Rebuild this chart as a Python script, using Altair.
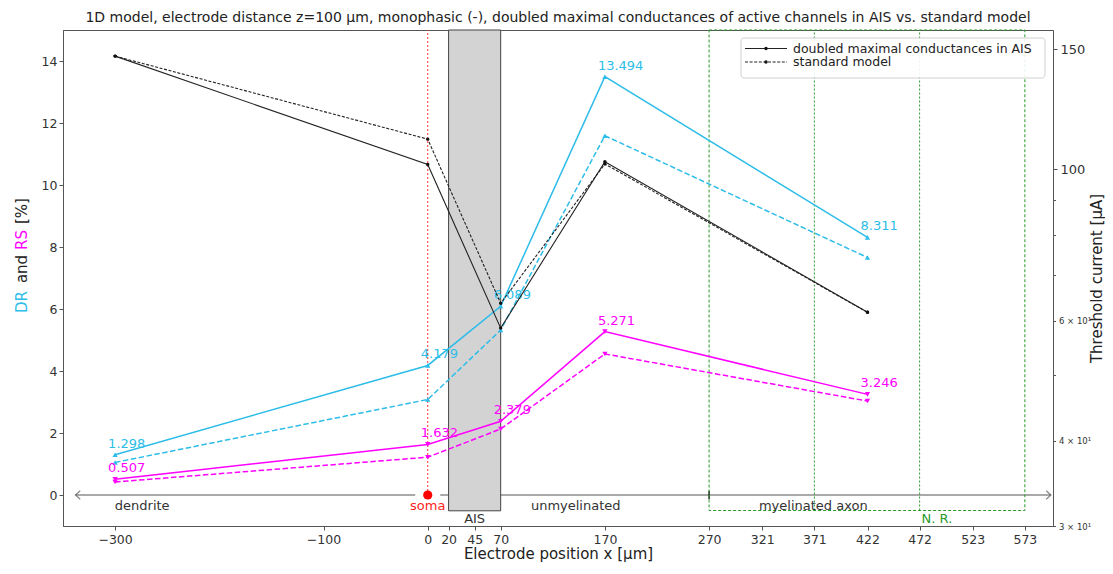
import altair as alt
import pandas as pd

# ---------------- data ----------------
positions = [-300, 0, 70, 170, 422]
dr_doubled = [1.298, 4.179, 6.089, 13.494, 8.311]
dr_standard = [1.05, 3.08, 5.32, 11.59, 7.66]
rs_doubled = [0.507, 1.632, 2.379, 5.271, 3.246]
rs_standard = [0.42, 1.22, 2.13, 4.55, 3.03]
thr_doubled = [146.5, 101.6, 58.5, 102.6, 61.7]
thr_standard = [146.5, 110.7, 63.6, 101.8, 61.7]

model_names = ["doubled maximal conductances in AIS", "standard model"]
metrics = ["DR", "RS"]

x_ticks = [-300, -100, 0, 20, 45, 70, 170, 270, 321, 371, 422, 472, 523, 573]
left_ticks = [0, 2, 4, 6, 8, 10, 12, 14]
right_ticks = [30, 40, 50, 60, 70, 80, 90, 100, 150]

region_names = ["dendrite", "soma", "unmyelinated", "myelinated axon"]
region_x = [-274, 0, 142, 370]
region_colors = ["#333333", "#ff2020", "#333333", "#333333"]

ais_x = [20, 70]
myelin_x = [270, 573]
node_x = [371, 472]
arrow_left = [-338, -12]
arrow_right = [12, 598]

CYAN = "#2dbde8"
MAGENTA = "#ff00ff"
GREEN = "#2a9a2a"
FONT = "DejaVu Sans"

# ---------------- tables ----------------
rows = []
for metric, doubled, standard in [("DR", dr_doubled, dr_standard), ("RS", rs_doubled, rs_standard)]:
    for x, v in zip(positions, doubled):
        rows.append({"x": x, "value": v, "metric": metric, "model": model_names[0], "label": f"{v:.3f}"})
    for x, v in zip(positions, standard):
        rows.append({"x": x, "value": v, "metric": metric, "model": model_names[1], "label": ""})
pct = pd.DataFrame(rows)

thr_rows = []
for x, v in zip(positions, thr_doubled):
    thr_rows.append({"x": x, "value": v, "model": model_names[0]})
for x, v in zip(positions, thr_standard):
    thr_rows.append({"x": x, "value": v, "model": model_names[1]})
thr = pd.DataFrame(thr_rows)

# ---------------- shared encodings ----------------
x_scale = alt.Scale(domain=[-350, 600], nice=False, zero=False)
x_axis = alt.Axis(values=x_ticks, title="Electrode position x [µm]", labelFontSize=12.5,
                  titleFontSize=15, titleFontWeight="normal", labelColor="#333", titleColor="#222",
                  tickSize=4, domainColor="#555", tickColor="#555", grid=False, labelPadding=3,
                  titlePadding=1, labelFlush=False, labelOverlap=False)


def X(field):
    return alt.X(field, type="quantitative", scale=x_scale, axis=x_axis)


yl_scale = alt.Scale(domain=[-1, 15], nice=False, zero=False)
yl_axis = alt.Axis(values=left_ticks, title=None, labelFontSize=12.5, labelColor="#333",
                   tickSize=4, domainColor="#555", tickColor="#555", grid=False, orient="left")


def YL(field):
    return alt.Y(field, type="quantitative", scale=yl_scale, axis=yl_axis)


color_scale = alt.Scale(domain=metrics, range=[CYAN, MAGENTA])
shape_scale = alt.Scale(domain=metrics, range=["triangle-up", "triangle-down"])

one = pd.DataFrame({"a": [0]})

# ---------------- left group (percent axis) ----------------
arrow_df = pd.DataFrame({"x": [arrow_left[0], arrow_right[0]], "x2": [arrow_left[1], arrow_right[1]], "y": [0, 0]})
arrow = alt.Chart(arrow_df).mark_rule(color="#555", strokeWidth=1.2).encode(x=X("x"), x2="x2", y=YL("y"))
head_l = alt.Chart(pd.DataFrame({"x": [arrow_left[0]], "y": [0]})).mark_point(
    shape="M0.9,-0.8L0,0L0.9,0.8", filled=False, size=110, color="#555", strokeWidth=1.2
).encode(x=X("x"), y=YL("y"))
head_r = alt.Chart(pd.DataFrame({"x": [arrow_right[1]], "y": [0]})).mark_point(
    shape="M-0.9,-0.8L0,0L-0.9,0.8", filled=False, size=110, color="#555", strokeWidth=1.2
).encode(x=X("x"), y=YL("y"))
tick270 = alt.Chart(pd.DataFrame({"x": [myelin_x[0]], "y": [-0.14], "y2": [0.14]})).mark_rule(
    color="#222", strokeWidth=1.5).encode(x=X("x"), y=YL("y"), y2="y2")

myelin_rect = alt.Chart(pd.DataFrame({"x": [myelin_x[0]], "x2": [myelin_x[1]], "y": [-0.5], "y2": [15]})).mark_rect(
    fill="transparent", stroke=GREEN, strokeDash=[3, 2], strokeWidth=1).encode(
    x=X("x"), x2="x2", y=YL("y"), y2="y2")
nodes = alt.Chart(pd.DataFrame({"x": node_x, "y": [-0.5, -0.5], "y2": [15, 15]})).mark_rule(
    color=GREEN, strokeDash=[2, 2], strokeWidth=1).encode(x=X("x"), y=YL("y"), y2="y2")

soma_line = alt.Chart(pd.DataFrame({"x": [0], "y": [0], "y2": [15]})).mark_rule(
    color="#ff3030", strokeDash=[2, 2], strokeWidth=1).encode(x=X("x"), y=YL("y"), y2="y2")

ais_rect = alt.Chart(pd.DataFrame({"x": [ais_x[0]], "x2": [ais_x[1]], "y": [-0.51], "y2": [15]})).mark_rect(
    fill="#d3d3d3", stroke="#444", strokeWidth=1).encode(x=X("x"), x2="x2", y=YL("y"), y2="y2")

solid_pct = alt.Chart(pct).transform_filter(alt.datum.model == model_names[0]).mark_line(strokeWidth=1.5).encode(
    x=X("x"), y=YL("value"),
    color=alt.Color("metric:N", scale=color_scale, legend=None), detail="metric:N")
dash_pct = alt.Chart(pct).transform_filter(alt.datum.model == model_names[1]).mark_line(
    strokeWidth=1.5, strokeDash=[5.5, 2.5]).encode(
    x=X("x"), y=YL("value"),
    color=alt.Color("metric:N", scale=color_scale, legend=None), detail="metric:N")
pts_pct = alt.Chart(pct).mark_point(filled=True, size=28, opacity=1).encode(
    x=X("x"), y=YL("value"),
    color=alt.Color("metric:N", scale=color_scale, legend=None),
    shape=alt.Shape("metric:N", scale=shape_scale, legend=None))
labels_pct = alt.Chart(pct).transform_filter(alt.datum.model == model_names[0]).mark_text(
    align="left", baseline="bottom", dx=-7, dy=-4, fontSize=13, font=FONT).encode(
    x=X("x"), y=YL("value"), text="label:N",
    color=alt.Color("metric:N", scale=color_scale, legend=None))

region_df = pd.DataFrame({"x": region_x, "y": [-0.34] * 4, "name": region_names, "c": region_colors})
region_txt = alt.Chart(region_df).mark_text(fontSize=13, font=FONT, baseline="middle").encode(
    x=X("x"), y=YL("y"), text="name:N", color=alt.Color("c:N", scale=None))
ais_txt = alt.Chart(pd.DataFrame({"x": [45], "y": [-0.76], "t": ["AIS"]})).mark_text(
    fontSize=13, font=FONT, color="#333", baseline="middle").encode(x=X("x"), y=YL("y"), text="t:N")
nr_txt = alt.Chart(pd.DataFrame({"x": [node_x[1]], "y": [-0.76], "t": ["N. R."]})).mark_text(
    fontSize=13, font=FONT, color=GREEN, baseline="middle", align="left", dx=2).encode(
    x=X("x"), y=YL("y"), text="t:N")
soma_dot = alt.Chart(pd.DataFrame({"x": [0], "y": [0]})).mark_circle(size=85, color="#ff0000", opacity=1).encode(
    x=X("x"), y=YL("y"))

# custom coloured left axis title
title_parts = [("DR", CYAN, 272), ("and", "#222", 239), ("RS", MAGENTA, 210), ("[%]", "#222", 181)]
ytitle = [alt.Chart(one).mark_text(text=t, color=c, fontSize=15, font=FONT, angle=270,
                                   align="center", baseline="middle").encode(
    x=alt.value(-41), y=alt.value(yy)) for t, c, yy in title_parts]

# legend box (drawn)
lg_box = alt.Chart(one).mark_rect(fill="white", stroke="#cccccc", cornerRadius=3, opacity=0.9).encode(
    x=alt.value(678), x2=alt.value(982), y=alt.value(8), y2=alt.value(48))
lg_items = []
for i, (name, dash) in enumerate(zip(model_names, [[1, 0], [3, 1.6]])):
    yy = 18.5 + i * 13.5
    lg_items.append(alt.Chart(one).mark_rule(color="#222", strokeWidth=1, strokeDash=dash).encode(
        x=alt.value(682), x2=alt.value(724), y=alt.value(yy)))
    lg_items.append(alt.Chart(one).mark_circle(color="#111", size=12, opacity=1).encode(
        x=alt.value(703), y=alt.value(yy)))
    lg_items.append(alt.Chart(one).mark_text(text=name, align="left", baseline="middle", fontSize=12.5,
                                             font=FONT, color="#222").encode(
        x=alt.value(730), y=alt.value(yy)))

left = alt.layer(arrow, head_l, head_r, tick270, myelin_rect, nodes, soma_line, ais_rect,
                 solid_pct, dash_pct, pts_pct, labels_pct, region_txt, ais_txt, nr_txt, soma_dot,
                 *ytitle, lg_box, *lg_items)

# ---------------- right group (threshold current, log) ----------------
label_expr = ("datum.value == 30 ? '3 × 10¹' : datum.value == 40 ? '4 × 10¹' : "
              "datum.value == 60 ? '6 × 10¹' : datum.value == 100 ? '100' : "
              "datum.value == 150 ? '150' : ''")
yr_axis = alt.Axis(orient="right", values=right_ticks, labelExpr=label_expr,
                   labelFontSize={"condition": {"test": "datum.value >= 100", "value": 13}, "value": 8.5},
                   tickSize={"condition": {"test": "datum.value >= 100", "value": 4}, "value": 2.5},
                   labelColor="#333", domainColor="#555", tickColor="#555", grid=False,
                   title="Threshold current [µA]", titleFontSize=15, titleFontWeight="normal",
                   titleColor="#222", titleAngle=270, titlePadding=14, labelPadding=3, labelFlush=False)
yr_scale = alt.Scale(type="log", domain=[30, 160], nice=False, zero=False)


def YR(field):
    return alt.Y(field, type="quantitative", scale=yr_scale, axis=yr_axis)


thr_solid = alt.Chart(thr).transform_filter(alt.datum.model == model_names[0]).mark_line(
    color="#222", strokeWidth=1.1).encode(x=X("x"), y=YR("value"))
thr_dash = alt.Chart(thr).transform_filter(alt.datum.model == model_names[1]).mark_line(
    color="#222", strokeWidth=1.1, strokeDash=[3, 1.6]).encode(x=X("x"), y=YR("value"))
thr_pts = alt.Chart(thr).mark_circle(color="#111", size=12, opacity=1).encode(x=X("x"), y=YR("value"))

right = alt.layer(thr_solid, thr_dash, thr_pts)

chart = alt.layer(left, right).resolve_scale(y="independent").properties(
    width=990, height=496,
    padding={"left": 55, "top": 22, "right": 52, "bottom": 40},
    autosize=alt.AutoSizeParams(type="none"),
    title=alt.Title("1D model, electrode distance z=100 µm, monophasic (-), doubled maximal conductances "
                    "of active channels in AIS vs. standard model",
                    fontSize=14, fontWeight="normal", color="#222", anchor="middle", offset=5, font=FONT),
).configure(font=FONT).configure_view(stroke="#555", strokeWidth=1).configure_axis(labelFont=FONT, titleFont=FONT)

chart.save("out.html", embed_options={"renderer": "svg", "actions": False})
